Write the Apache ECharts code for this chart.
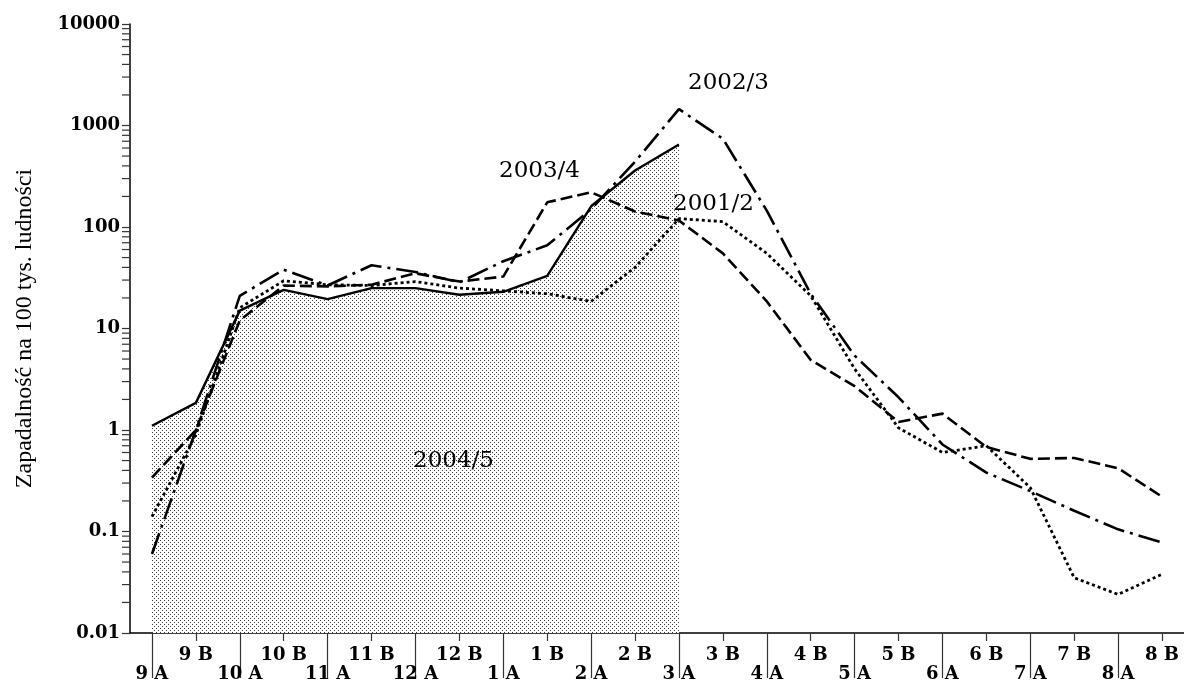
<!DOCTYPE html>
<html>
<head>
<meta charset="utf-8">
<script src="https://cdn.jsdelivr.net/npm/echarts@6/dist/echarts.min.js"></script>
<style>
html,body{margin:0;padding:0;background:#fff;}
#chart{width:1184px;height:683px;}
</style>
</head>
<body>
<div id="chart"></div>
<script>
// ---- data ----
var categories = ['9 A','9 B','10 A','10 B','11 A','11 B','12 A','12 B','1 A','1 B','2 A','2 B','3 A','3 B','4 A','4 B','5 A','5 B','6 A','6 B','7 A','7 B','8 A','8 B'];
var s2004_5 = [1.1, 1.85, 15, 24, 19.5, 25, 25, 21.5, 23, 33, 160, 360, 650, null, null, null, null, null, null, null, null, null, null, null];
var s2003_4 = [0.34, 1.0, 12, 26.5, 26, 27, 35, 29, 32.5, 175, 220, 142, 116, 55, 18.5, 4.9, 2.7, 1.2, 1.45, 0.68, 0.52, 0.53, 0.42, 0.22];
var s2002_3 = [0.06, 1.0, 21, 38, 26.5, 42, 36, 28.5, 46, 66, 150, 440, 1450, 740, 145, 22, 5.4, 2.1, 0.72, 0.38, 0.25, 0.16, 0.105, 0.078];
var s2001_2 = [0.14, 0.9, 16, 29.5, 27, 26.5, 29, 25, 23.5, 22, 18.5, 40, 121, 113, 55, 21, 4.0, 1.05, 0.6, 0.7, 0.27, 0.035, 0.024, 0.038];
var yTickLabels = {'0.01':'0.01','0.1':'0.1','1':'1','10':'10','100':'100','1000':'1000','10000':'10000'};
var minorTickValues = [0.02,0.03,0.04,0.05,0.06,0.07,0.08,0.09,
  0.2,0.3,0.4,0.5,0.6,0.7,0.8,0.9,
  2,3,4,5,6,7,8,9,
  20,30,40,50,60,70,80,90,
  200,300,400,500,600,700,800,900,
  2000,3000,4000,5000,6000,7000,8000,9000];

// ---- dot pattern ----
var pc = document.createElement('canvas');
pc.width = 4; pc.height = 4;
var pctx = pc.getContext('2d');
pctx.fillStyle = '#fff';
pctx.fillRect(0,0,4,4);
pctx.fillStyle = '#3a3a3a';
pctx.fillRect(0,0,1,1);
pctx.fillRect(2,2,1,1);

var serif = 'DejaVu Serif';
var chart = echarts.init(document.getElementById('chart'), null, {renderer:'canvas'});
var lineBase = {type:'line', symbol:'none', xAxisIndex:0, yAxisIndex:0, silent:true, z:3};

chart.setOption({
  animation:false,
  backgroundColor:'#fff',
  grid:{left:130, right:0, top:24, bottom:48, containLabel:false},
  xAxis:[{
    type:'category', data:categories, position:'bottom', boundaryGap:true,
    axisLine:{show:true, lineStyle:{color:'#000', width:1.5}},
    axisTick:{show:true, alignWithLabel:true, length:45, interval:function(i){return i%2===0;}, lineStyle:{color:'#333', width:1.2}},
    axisLabel:{interval:function(i){return i%2===0;}, margin:32, color:'#000', fontFamily:serif, fontWeight:'bold', fontSize:18},
    splitLine:{show:false}
  },{
    type:'category', data:categories, position:'bottom', boundaryGap:true,
    axisLine:{show:false},
    axisTick:{show:true, alignWithLabel:true, length:8, interval:function(i){return i%2===1;}, lineStyle:{color:'#333', width:1.2}},
    axisLabel:{interval:function(i){return i%2===1;}, margin:13, color:'#000', fontFamily:serif, fontWeight:'bold', fontSize:18},
    splitLine:{show:false}
  }],
  yAxis:{
    type:'log', logBase:10, min:0.01, max:10000,
    name:'Zapadalność na 100 tys. ludności', nameLocation:'middle', nameGap:93,
    nameTextStyle:{fontFamily:'Liberation Serif', fontSize:24, color:'#000'},
    axisLine:{show:true, lineStyle:{color:'#000', width:1.5}},
    axisTick:{show:true, length:8, lineStyle:{color:'#333', width:1.2}},
    axisLabel:{margin:10, color:'#000', fontFamily:serif, fontWeight:'bold', fontSize:18,
      formatter:function(v){var k=String(+v.toPrecision(6)); return yTickLabels[k]!==undefined?yTickLabels[k]:k;}},
    splitLine:{show:false}
  },
  series:[
    Object.assign({}, lineBase, {name:'2004/5', data:s2004_5, z:2,
      lineStyle:{color:'#000', width:2.4, type:'solid'},
      areaStyle:{origin:'start', opacity:1, color:{image:pc, repeat:'repeat'}}}),
    Object.assign({}, lineBase, {name:'2003/4', data:s2003_4,
      lineStyle:{color:'#000', width:2.6, type:[12,5]}}),
    Object.assign({}, lineBase, {name:'2002/3', data:s2002_3,
      lineStyle:{color:'#000', width:2.6, type:[22,6,3,6]}}),
    Object.assign({}, lineBase, {name:'2001/2', data:s2001_2,
      lineStyle:{color:'#000', width:2.8, type:[3,3]}}),
    {type:'custom', silent:true, xAxisIndex:0, yAxisIndex:0, z:5,
      data:minorTickValues.map(function(v){return [0, v];}),
      encode:{x:0, y:1},
      renderItem:function(params, api){
        var p = api.coord([0, api.value(1)]);
        var x0 = params.coordSys.x;
        return {type:'line', shape:{x1:x0-8, y1:p[1], x2:x0, y2:p[1]}, style:{stroke:'#333', lineWidth:1.2}};
      }}
  ],
  graphic:[
    {type:'text', left:688, top:72, z:10, style:{text:'2002/3', font:'23px "DejaVu Serif"', fill:'#000'}},
    {type:'text', left:499, top:160, z:10, style:{text:'2003/4', font:'23px "DejaVu Serif"', fill:'#000'}},
    {type:'text', left:673, top:193, z:10, style:{text:'2001/2', font:'23px "DejaVu Serif"', fill:'#000'}},
    {type:'text', left:413, top:450, z:10, style:{text:'2004/5', font:'23px "DejaVu Serif"', fill:'#000'}}
  ]
});
</script>
</body>
</html>
